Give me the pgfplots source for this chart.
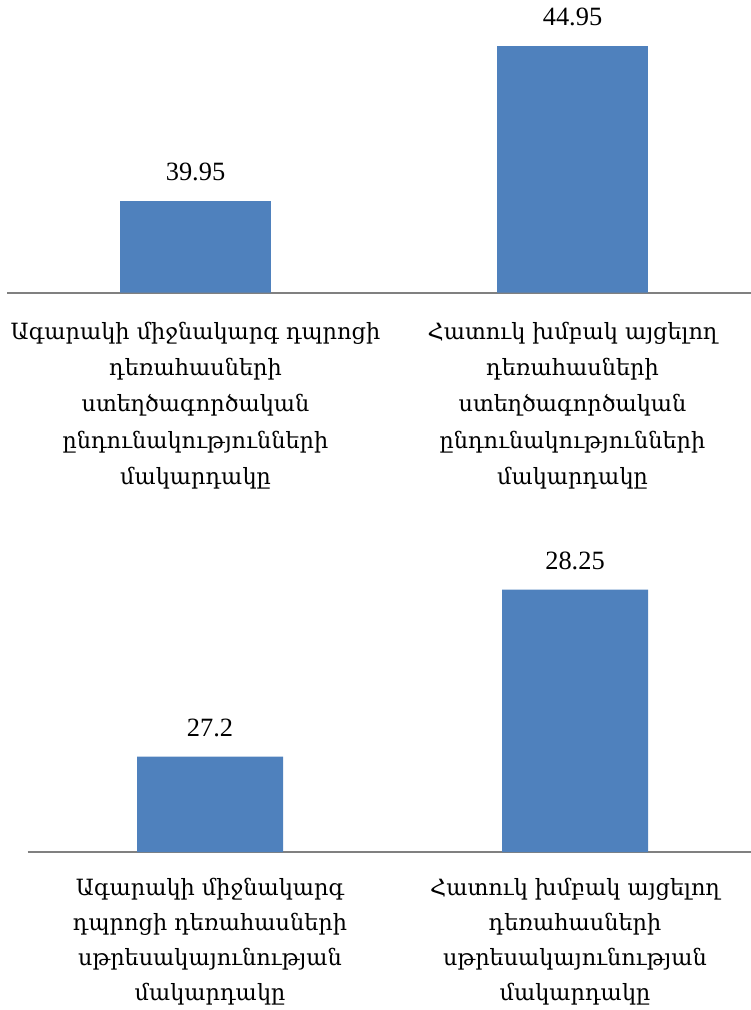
\documentclass[border=0pt]{standalone}
\usepackage{pgfplots}
\pgfplotsset{compat=1.18}
\usepackage{fontspec}
\setmainfont{Liberation Serif}
\newfontfamily\armfont{DejaVu Serif}
\definecolor{barblue}{HTML}{4F81BD}
\definecolor{axisgray}{HTML}{808080}

\pgfplotstableread{
x y
0 39.95
1 44.95
}\topdata
\pgfplotstableread{
x y
0 27.2
1 28.25
}\botdata

\pgfplotsset{
  mybars/.style={
    ybar, scale only axis, clip=false,
    hide y axis,
    axis x line*=bottom,
    x axis line style={-, draw=axisgray, line width=1.8bp},
    xmin=-0.5, xmax=1.5,
    xtick={0,1},
    major tick length=0pt,
    xticklabel style={anchor=north, inner sep=0pt, align=center,
      font=\armfont\fontsize{22.5}{36.5}\selectfont, text=black},
    nodes near coords,
    every node near coord/.append style={font=\fontsize{26.5}{30}\selectfont,
      text=black, anchor=south, inner sep=0pt, yshift=20bp},
    /pgf/number format/assume math mode=true,
  }
}

\begin{document}
\begin{tikzpicture}
\begin{axis}[mybars,
  at={(7bp,717.3bp)}, anchor=south west,
  width=754bp, height=279bp,
  ymin=37, ymax=46,
  bar width=150.8bp,
  xticklabel style={yshift=-29bp},
  xticklabels={{Ագարակի միջնակարգ դպրոցի\\դեռահասների\\ստեղծագործական\\ընդունակությունների\\մակարդակը},
               {Հատուկ խմբակ այցելող\\դեռահասների\\ստեղծագործական\\ընդունակությունների\\մակարդակը}},
]
\addplot[fill=barblue, draw=none] table[x=x,y=y] {\topdata};
\end{axis}

\begin{axis}[mybars,
  at={(27.5bp,158bp)}, anchor=south west,
  width=730bp, height=318bp,
  ymin=26.6, ymax=28.6,
  bar width=146bp,
  xticklabel style={yshift=-26bp, font=\armfont\fontsize{22.5}{35}\selectfont},
  xticklabels={{Ագարակի միջնակարգ\\դպրոցի դեռահասների\\սթրեսակայունության\\մակարդակը},
               {Հատուկ խմբակ այցելող\\դեռահասների\\սթրեսակայունության\\մակարդակը}},
]
\addplot[fill=barblue, draw=none] table[x=x,y=y] {\botdata};
\end{axis}
\pgfresetboundingbox
\useasboundingbox (0bp,0bp) rectangle (751bp,1010bp);
\end{tikzpicture}
\end{document}
